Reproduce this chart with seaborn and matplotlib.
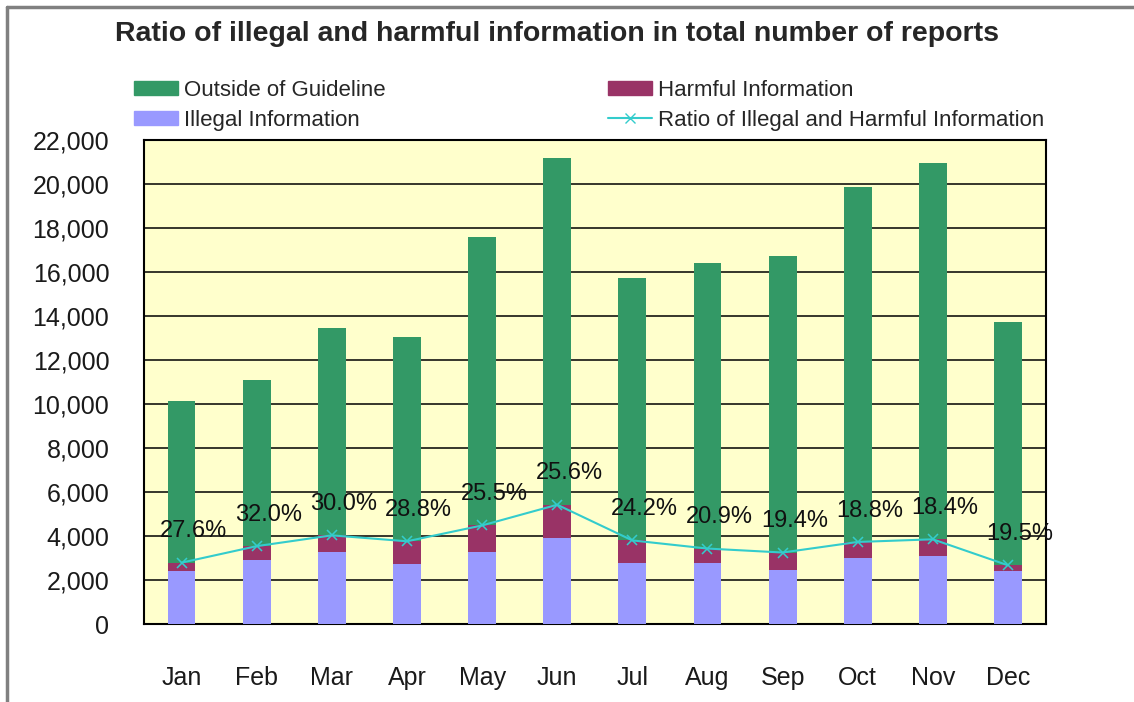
import numpy as np
import pandas as pd
import seaborn as sns
import matplotlib.pyplot as plt
from matplotlib.patches import Patch
from matplotlib.lines import Line2D

# monthly report counts
months = ['Jan', 'Feb', 'Mar', 'Apr', 'May', 'Jun', 'Jul', 'Aug', 'Sep', 'Oct', 'Nov', 'Dec']
illegal = [2400, 2900, 3270, 2720, 3270, 3900, 2770, 2770, 2450, 2990, 3080, 2400]
harmful = [390, 640, 760, 1040, 1210, 1520, 1030, 660, 800, 740, 770, 270]
outside = [7320, 7530, 9400, 9300, 13080, 15760, 11900, 12990, 13490, 16130, 17100, 11030]
ratio_labels = ['27.6%', '32.0%', '30.0%', '28.8%', '25.5%', '25.6%',
                '24.2%', '20.9%', '19.4%', '18.8%', '18.4%', '19.5%']

df = pd.DataFrame({'Month': months, 'Illegal': illegal, 'Harmful': harmful, 'Outside': outside})
df['IH'] = df['Illegal'] + df['Harmful']
df['Total'] = df['IH'] + df['Outside']

c_out = '#339966'
c_harm = '#993366'
c_ill = '#9999FF'
c_line = '#33CCCC'

sns.set_style('white')
plt.rcParams['font.family'] = ['Liberation Sans', 'DejaVu Sans']

fig = plt.figure(figsize=(11.34, 7.02), dpi=100)
ax = fig.add_axes([0.127, 0.111, 0.795, 0.690])
ax.set_facecolor('#FFFFCC')

# stacked bars by overlaying cumulative totals
sns.barplot(data=df, x='Month', y='Total', color=c_out, width=0.37, saturation=1, linewidth=0, ax=ax, zorder=2)
sns.barplot(data=df, x='Month', y='IH', color=c_harm, width=0.37, saturation=1, linewidth=0, ax=ax, zorder=3)
sns.barplot(data=df, x='Month', y='Illegal', color=c_ill, width=0.37, saturation=1, linewidth=0, ax=ax, zorder=4)

sns.pointplot(data=df, x='Month', y='IH', color=c_line, markers='x', linestyles='-',
              markersize=7, linewidth=1.5, ax=ax, zorder=5)
for coll in ax.collections:
    coll.set_zorder(6)

for i, lab in enumerate(ratio_labels):
    ax.annotate(lab, (i, df['IH'][i]), xytext=(8.5, 22.5), textcoords='offset points',
                ha='center', va='center', fontsize=17, color='#111111', zorder=7)

ax.set_ylim(0, 22000)
ax.set_xlim(-0.5, 11.5)
ax.set_yticks(range(0, 22001, 2000))
ax.yaxis.set_major_formatter(plt.FuncFormatter(lambda v, p: f'{int(v):,}'))
ax.grid(axis='y', color='black', linewidth=1.1, zorder=1)
ax.set_axisbelow(True)
ax.set_xlabel('')
ax.set_ylabel('')

# ticks between categories on the x axis
ax.set_xticks(np.arange(12))
ax.tick_params(axis='x', length=0, pad=30, labelsize=18, labelcolor='#1a1a1a')
ax.tick_params(axis='y', length=0, pad=25, labelsize=18, labelcolor='#1a1a1a')
ax.set_xticks(np.arange(0.5, 11.5, 1), minor=True)
ax.tick_params(axis='x', which='minor', direction='in', length=6, width=1.2, color='black')
for s in ax.spines.values():
    s.set_color('black')
    s.set_linewidth(1.5)

fig.text(0.491, 0.951, 'Ratio of illegal and harmful information in total number of reports',
         ha='center', va='center', fontsize=20.5, fontweight='bold')

handles = [Patch(color=c_out), Patch(color=c_ill), Patch(color=c_harm),
           Line2D([0], [0], color=c_line, marker='x', markersize=7, linewidth=1.5)]
labels = ['Outside of Guideline', 'Illegal Information', 'Harmful Information',
          'Ratio of Illegal and Harmful Information']
fig.legend(handles, labels, ncol=2, loc='center left', bbox_to_anchor=(0.1005, 0.850),
           frameon=False, fontsize=16, handlelength=2.0, handleheight=0.65,
           handletextpad=0.25, columnspacing=10.0, labelspacing=0.4)

# grey frame on top and left edges
fig.add_artist(Line2D([0.0062, 1.0], [0.99, 0.99], transform=fig.transFigure, color='#808080', linewidth=2.5))
fig.add_artist(Line2D([0.0062, 0.0062], [0.0, 0.99], transform=fig.transFigure, color='#808080', linewidth=2.5))

fig.savefig('out.png', dpi=100)
